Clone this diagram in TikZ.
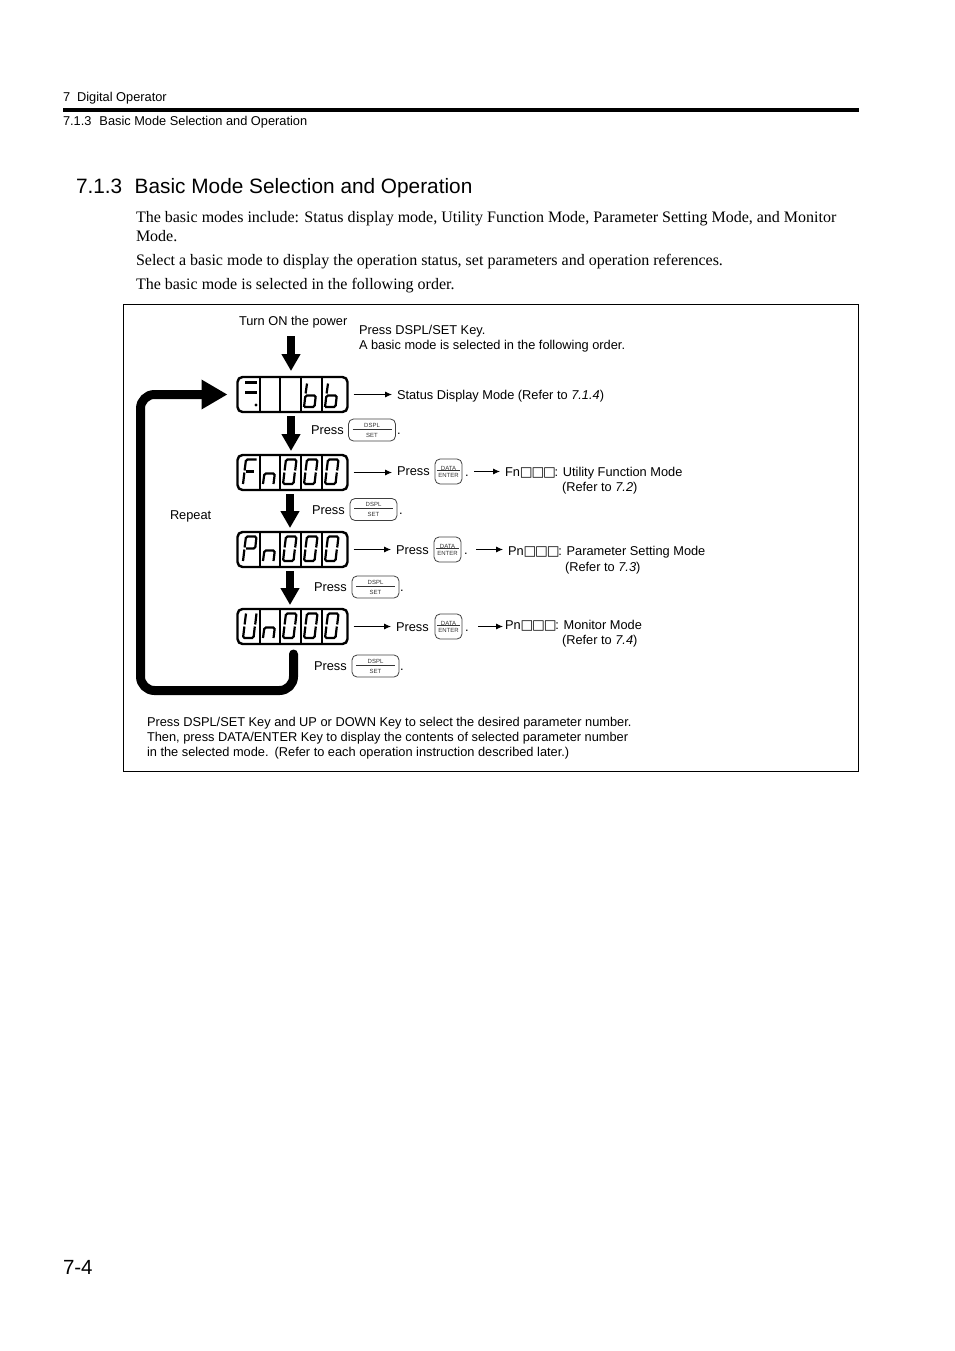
\documentclass[tikz,border=0pt]{standalone}
\usepackage{fontspec}
\usepackage{xcolor}
\usepackage{tikz}
\usetikzlibrary{arrows.meta}
\setmainfont{Liberation Sans}
\newfontfamily\serifbody{Liberation Serif}
\newfontfamily\symbolfont{DejaVu Sans}
\newcommand{\boxes}{{\symbolfont\bfseries\fontsize{13.5}{15}\selectfont □\kern-1.2pt□\kern-1.2pt□\kern-1.2pt}}

\begin{document}
\begin{tikzpicture}[
        x=1pt, y=-1pt,
        every node/.style={inner sep=0pt, outer sep=0pt},
        txt/.style={anchor=base west, font=\fontsize{12.8}{15}\selectfont},
        head/.style={anchor=base west, font=\fontsize{12.8}{15}\selectfont},
        body/.style={anchor=base west, font=\serifbody\fontsize{16}{18}\selectfont},
        display/.style={rectangle, draw=black, line width=2.4pt, rounded corners=5pt, minimum width=110pt, minimum height=35pt},
        dsplkey/.style={rectangle, draw=black!75, line width=0.8pt, rounded corners=5pt, minimum width=47pt, minimum height=22pt, align=center, font=\fontsize{6}{7}\selectfont, text=black!80},
        datakey/.style={rectangle, draw=black!75, line width=0.8pt, rounded corners=5pt, minimum width=27pt, minimum height=25pt, align=center, font=\fontsize{6}{7}\selectfont, text=black!80},
        thin arrow/.style={-{Latex[length=7pt,width=6pt]}, line width=0.8pt, shorten <=6pt},
        big arrow/.style={-{Triangle[length=17pt,width=18pt]}, line width=8.5pt, shorten <=4pt, shorten >=4pt},
        seg/.style={line width=2.2pt, rounded corners=1.5pt},
        digitzero/.pic={\draw[seg] (4.6,15.5) -- (6,4.5) -- (16.5,4.5) -- (15.2,15.5); \draw[seg] (4.4,17.5) -- (3,29) -- (13.5,29) -- (14.8,17.5);},
        letterf/.pic={\draw[seg] (4.6,15.5) -- (6,4.5) -- (16.5,4.5); \draw[seg] (4.4,17.5) -- (3,29); \draw[seg] (6,16.5) -- (14,16.5);},
        letterp/.pic={\draw[seg] (4.6,15.5) -- (6,4.5) -- (16.5,4.5) -- (15.2,16.5) -- (6,16.5); \draw[seg] (4.4,17.5) -- (3,29);},
        letteru/.pic={\draw[seg] (6,4.5) -- (4.6,15.5); \draw[seg] (16.5,4.5) -- (15.2,15.5); \draw[seg] (4.4,17.5) -- (3,29) -- (13.5,29) -- (14.8,17.5);},
        lettern/.pic={\draw[seg] (3,29) -- (4.4,18.5) -- (14.8,18.5) -- (13.5,29);},
        letterb/.pic={\draw[seg] (6,6.5) -- (4.6,16.5); \draw[seg] (3,30) -- (4.4,18.5) -- (14.8,18.5) -- (13.5,30) -- (3,30);}
    ]
        \useasboundingbox (0,0) rectangle (954,1351);

        % Page header
        \node[head] (chapter) at (63,102) {7\hspace{7pt}Digital Operator};
        \node[rectangle, fill=black, minimum width=796pt, minimum height=4pt, anchor=west] (headrule) at (63,110) {};
        \node[head] (section) at (63,125.4) {7.1.3\hspace{8pt}Basic Mode Selection and Operation};

        % Section text
        \node[anchor=base west, font=\fontsize{20.8}{24}\selectfont] (title) at (76,193.2) {7.1.3\hspace{12.5pt}Basic Mode Selection and Operation};
        \node[body] (para_a) at (136,222.4) {The basic modes include: Status display mode, Utility Function Mode, Parameter Setting Mode, and Monitor};
        \node[body] (para_b) at (136,241) {Mode.};
        \node[body] (para_c) at (136,265) {Select a basic mode to display the operation status, set parameters and operation references.};
        \node[body] (para_d) at (136,289) {The basic mode is selected in the following order.};

        % Frame
        \node[rectangle, draw=black, line width=0.7pt, minimum width=735pt, minimum height=467pt, anchor=north west] (frame) at (123.5,304.5) {};

        % Upper texts
        \node[txt] (power) at (239,325) {Turn ON the power};
        \node[txt] (press_note) at (359,334) {Press DSPL/SET Key.};
        \node[txt] (basic_note) at (359,349) {A basic mode is selected in the following order.};
        \coordinate (power_start) at (291,332);

        % Displays
        \node[display] (disp_status) at (292.5,394.5) {};
        \node[display] (disp_fn) at (292.5,472.5) {};
        \node[display] (disp_pn) at (292.5,549.5) {};
        \node[display] (disp_un) at (292.5,626.5) {};

        % Cell dividers
        \foreach \ytop/\ybot in {377/412, 455/490, 532/567, 609/644} {
            \foreach \xcell in {260, 280, 301, 322} {
                \draw[line width=1.7pt] (\xcell,\ytop) -- (\xcell,\ybot);
            }
        }

        % Display contents
        \draw[line width=2.2pt] (245,382.5) -- (257,382.5);
        \draw[line width=2.2pt] (245,392.5) -- (257,392.5);
        \fill (256,405) circle (1.7pt);
        \pic at (301,377) {letterb};
        \pic at (322,377) {letterb};
        \pic at (240,455) {letterf};
        \pic at (260,455) {lettern};
        \pic at (240,532) {letterp};
        \pic at (260,532) {lettern};
        \pic at (240,609) {letteru};
        \pic at (260,609) {lettern};
        \foreach \ytop in {455, 532, 609} {
            \foreach \xcell in {280, 301, 322} {
                \pic at (\xcell,\ytop) {digitzero};
            }
        }

        % Status row
        \node[txt] (status) at (397,399) {Status Display Mode (Refer to \textit{7.1.4})};
        \node[txt] (press_a) at (311,434) {Press};
        \node[dsplkey] (dspl_a) at (372,430) {DSPL\\[-2.5pt]\rule[2pt]{39pt}{0.7pt}\\[-1.5pt]SET};
        \node[txt] (dot_a) at (397,434) {.};

        % Fn row
        \node[txt] (press_fn) at (397,475) {Press};
        \node[datakey] (data_fn) at (448.5,471.5) {DATA\\[-4pt]\rule[2pt]{23pt}{0.7pt}\\[-3pt]ENTER};
        \node[txt] (dot_fn) at (465,476) {.};
        \node[txt] (mode_fn) at (505,476) {Fn\boxes: Utility Function Mode};
        \node[txt] (refer_fn) at (562,491) {(Refer to \textit{7.2})};
        \node[txt] (press_b) at (312,514) {Press};
        \node[dsplkey] (dspl_b) at (373.5,509.5) {DSPL\\[-2.5pt]\rule[2pt]{39pt}{0.7pt}\\[-1.5pt]SET};
        \node[txt] (dot_b) at (399,514) {.};

        % Pn row
        \node[txt] (press_pn) at (396,554) {Press};
        \node[datakey] (data_pn) at (447.5,549.5) {DATA\\[-4pt]\rule[2pt]{23pt}{0.7pt}\\[-3pt]ENTER};
        \node[txt] (dot_pn) at (464,554) {.};
        \node[txt] (mode_pn) at (508,555) {Pn\boxes: Parameter Setting Mode};
        \node[txt] (refer_pn) at (565,571) {(Refer to \textit{7.3})};
        \node[txt] (press_c) at (314,591) {Press};
        \node[dsplkey] (dspl_c) at (375.5,587) {DSPL\\[-2.5pt]\rule[2pt]{39pt}{0.7pt}\\[-1.5pt]SET};
        \node[txt] (dot_c) at (400,591) {.};

        % Un row
        \node[txt] (press_un) at (396,631) {Press};
        \node[datakey] (data_un) at (448.5,626.5) {DATA\\[-4pt]\rule[2pt]{23pt}{0.7pt}\\[-3pt]ENTER};
        \node[txt] (dot_un) at (465,631) {.};
        \node[txt] (mode_un) at (505,629) {Pn\boxes: Monitor Mode};
        \node[txt] (refer_un) at (562,644) {(Refer to \textit{7.4})};
        \node[txt] (press_d) at (314,670) {Press};
        \node[dsplkey] (dspl_d) at (375.5,666) {DSPL\\[-2.5pt]\rule[2pt]{39pt}{0.7pt}\\[-1.5pt]SET};
        \node[txt] (dot_d) at (400,670) {.};

        % Repeat label and note
        \node[txt] (repeat_label) at (170,519) {Repeat};
        \node[txt] (note_a) at (147,726) {Press DSPL/SET Key and UP or DOWN Key to select the desired parameter number.};
        \node[txt] (note_b) at (147,741) {Then, press DATA/ENTER Key to display the contents of selected parameter number};
        \node[txt] (note_c) at (147,756) {in the selected mode.\hspace{6pt}(Refer to each operation instruction described later.)};

        % Connections - downward flow
        \draw[big arrow, shorten >=6pt] (power_start) -- ([xshift=-1.5pt]disp_status.north);
        \draw[big arrow] ([xshift=-1.5pt]disp_status.south) -- ([xshift=-1.5pt]disp_fn.north);
        \draw[big arrow] ([xshift=-2.5pt]disp_fn.south) -- ([xshift=-2.5pt]disp_pn.north);
        \draw[big arrow] ([xshift=-2.5pt]disp_pn.south) -- ([xshift=-2.5pt]disp_un.north);

        % Repeat loop
        \draw[-{Triangle[length=26pt,width=28pt]}, line width=9pt, rounded corners=14pt, line cap=round, shorten <=10pt, shorten >=10pt]
            ([xshift=1pt]disp_un.south) -- (293.5,690.5) -- (140.5,690.5) -- (140.5,394.5) -- (disp_status.west);

        % Connections - row arrows
        \draw[thin arrow, shorten >=5pt] (disp_status.east) -- (status.west |- disp_status.east);
        \draw[thin arrow, shorten >=5pt] (disp_fn.east) -- (press_fn.west |- disp_fn.east);
        \draw[thin arrow, shorten >=5pt] (disp_pn.east) -- (press_pn.west |- disp_pn.east);
        \draw[thin arrow, shorten >=5pt] (disp_un.east) -- (press_un.west |- disp_un.east);
        \draw[thin arrow, shorten <=12pt, shorten >=5pt] (data_fn.east) -- (mode_fn.west |- data_fn.east);
        \draw[thin arrow, shorten <=15pt, shorten >=5pt] (data_pn.east) -- (mode_pn.west |- data_pn.east);
        \draw[thin arrow, shorten <=16pt, shorten >=2pt] (data_un.east) -- (mode_un.west |- data_un.east);

        % Page number
        \node[anchor=base west, font=\fontsize{20.5}{24}\selectfont] (pagenum) at (63,1274) {7-4};
\end{tikzpicture}
\end{document}
